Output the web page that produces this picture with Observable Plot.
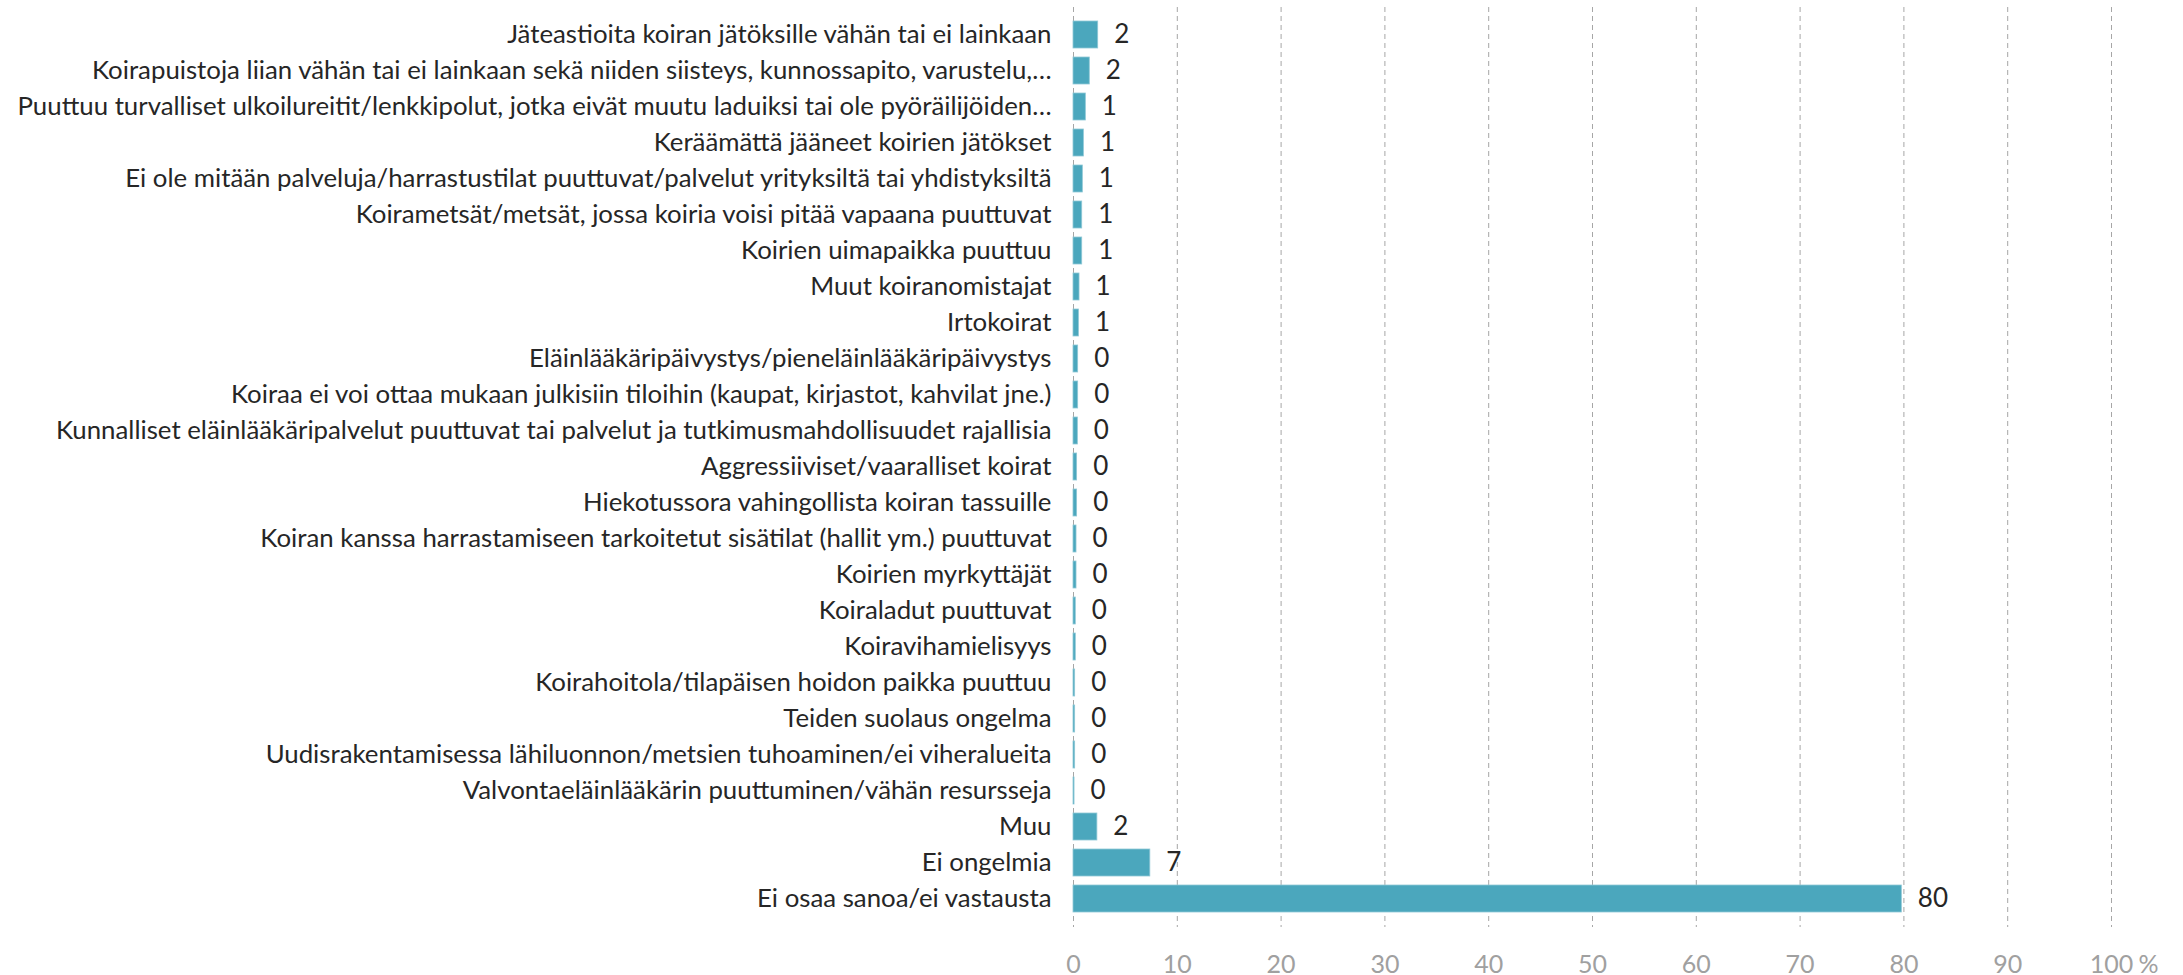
<!DOCTYPE html>
<html>
<head>
<meta charset="utf-8">
<script src="https://cdn.jsdelivr.net/npm/d3@7"></script>
<script src="https://cdn.jsdelivr.net/npm/@observablehq/plot@0.6"></script>
<style>
  html, body { margin: 0; padding: 0; background: #fff; }
</style>
</head>
<body>
<div id="chart"></div>
<script>
const categories = [
  "Jäteastioita koiran jätöksille vähän tai ei lainkaan",
  "Koirapuistoja liian vähän tai ei lainkaan sekä niiden siisteys, kunnossapito, varustelu,…",
  "Puuttuu turvalliset ulkoilureitit/lenkkipolut, jotka eivät muutu laduiksi tai ole pyöräilijöiden…",
  "Keräämättä jääneet koirien jätökset",
  "Ei ole mitään palveluja/harrastustilat puuttuvat/palvelut yrityksiltä tai yhdistyksiltä",
  "Koirametsät/metsät, jossa koiria voisi pitää vapaana puuttuvat",
  "Koirien uimapaikka puuttuu",
  "Muut koiranomistajat",
  "Irtokoirat",
  "Eläinlääkäripäivystys/pieneläinlääkäripäivystys",
  "Koiraa ei voi ottaa mukaan julkisiin tiloihin (kaupat, kirjastot, kahvilat jne.)",
  "Kunnalliset eläinlääkäripalvelut puuttuvat tai palvelut ja tutkimusmahdollisuudet rajallisia",
  "Aggressiiviset/vaaralliset koirat",
  "Hiekotussora vahingollista koiran tassuille",
  "Koiran kanssa harrastamiseen tarkoitetut sisätilat (hallit ym.) puuttuvat",
  "Koirien myrkyttäjät",
  "Koiraladut puuttuvat",
  "Koiravihamielisyys",
  "Koirahoitola/tilapäisen hoidon paikka puuttuu",
  "Teiden suolaus ongelma",
  "Uudisrakentamisessa lähiluonnon/metsien tuhoaminen/ei viheralueita",
  "Valvontaeläinlääkärin puuttuminen/vähän resursseja",
  "Muu",
  "Ei ongelmia",
  "Ei osaa sanoa/ei vastausta"
];
const values = [2.38, 1.57, 1.19, 1.0, 0.9, 0.84, 0.84, 0.58, 0.52, 0.45, 0.45, 0.42, 0.35, 0.35, 0.29, 0.29, 0.22, 0.22, 0.16, 0.16, 0.16, 0.1, 2.3, 7.4, 79.8];
const valueLabels = ["2","2","1","1","1","1","1","1","1","0","0","0","0","0","0","0","0","0","0","0","0","0","2","7","80"];
const xTicks = [0, 10, 20, 30, 40, 50, 60, 70, 80, 90, 100];
const xTickLabels = ["0","10","20","30","40","50","60","70","80","90","100"];
const unitLabel = "%";

const data = categories.map((c, i) => ({category: c, value: values[i], label: valueLabels[i]}));
const tickData = xTicks.map((t, i) => ({x: t, label: xTickLabels[i]}));

const W = 2183, H = 975;
const barColor = "#4ba7bd";
const textColor = "#262626";
const gridColor = "#a6a6a6";
const tickColor = "#a0a0a0";
const font = "Lato, 'Open Sans', sans-serif";

const chart = Plot.plot({
  width: W,
  height: H,
  marginLeft: 1073,
  marginRight: 72,
  marginTop: 7,
  marginBottom: 48,
  style: {fontFamily: font, background: "#fff", overflow: "visible"},
  x: {domain: [0, 100], axis: null},
  y: {domain: categories, paddingInner: 0.24, paddingOuter: 0.12, axis: null},
  marks: [
    Plot.ruleX(xTicks, {stroke: gridColor, strokeWidth: 1, strokeDasharray: "5,4"}),
    Plot.barX(data, {x: "value", y: "category", fill: barColor, stroke: "#8fc8d6", strokeWidth: 0.8}),
    Plot.text(data, {x: "value", y: "category", text: "label", textAnchor: "start", dx: 16, fontSize: 26, fill: textColor}),
    Plot.axisY({tickSize: 0, tickPadding: 22, fontSize: 25.8, color: textColor, label: null, textOverflow: null}),
    Plot.text(tickData, {x: "x", frameAnchor: "bottom", text: "label", dy: 37, fontSize: 25, fill: tickColor, lineAnchor: "middle"}),
    Plot.text([100], {x: d => d, frameAnchor: "bottom", text: () => unitLabel, dy: 37, dx: 27, textAnchor: "start", fontSize: 25, fill: tickColor, lineAnchor: "middle"})
  ]
});
document.getElementById("chart").appendChild(chart);
</script>
</body>
</html>
